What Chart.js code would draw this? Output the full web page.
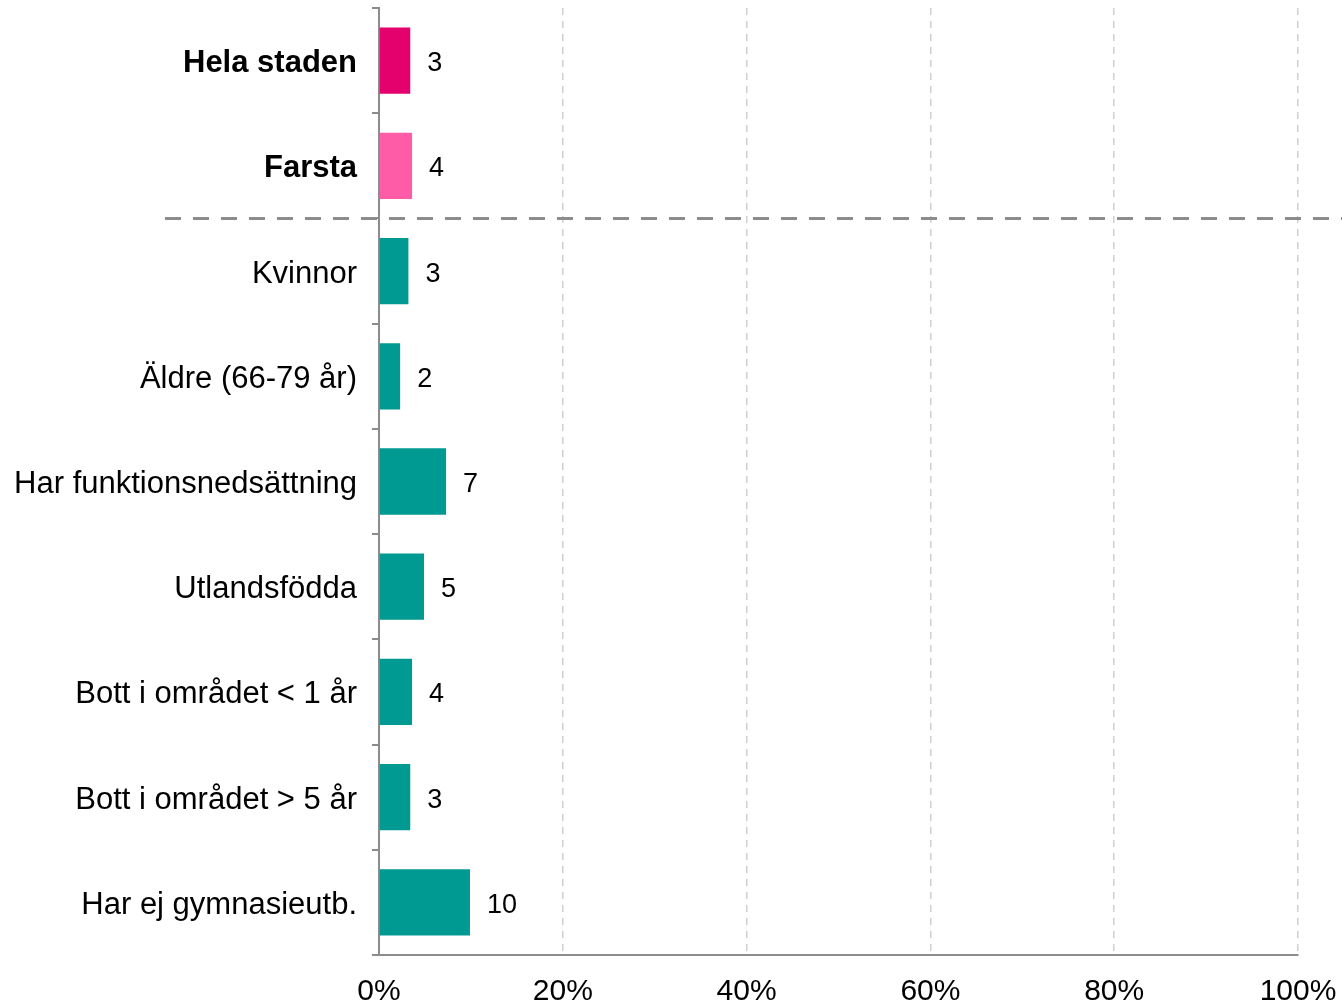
<!DOCTYPE html>
<html>
<head>
<meta charset="utf-8">
<script src="https://cdn.jsdelivr.net/npm/chart.js@4/dist/chart.umd.min.js"></script>
<style>
  html, body { margin: 0; padding: 0; background: #fff; }
  canvas { display: block; }
</style>
</head>
<body>
<canvas id="chart" width="1342" height="1005"></canvas>
<script>
// categories, values (percent) and bar colours
const categories = [
  'Hela staden',
  'Farsta',
  'Kvinnor',
  'Äldre (66-79 år)',
  'Har funktionsnedsättning',
  'Utlandsfödda',
  'Bott i området < 1 år',
  'Bott i området > 5 år',
  'Har ej gymnasieutb.'
];
const values = [3.4, 3.6, 3.2, 2.3, 7.3, 4.9, 3.6, 3.4, 9.9];
const barColors = ['#e4006d', '#ff5ca8', '#009a92', '#009a92', '#009a92', '#009a92', '#009a92', '#009a92', '#009a92'];
const boldRows = [0, 1];
const xTicks = [0, 20, 40, 60, 80, 100];

const FONT = "'Liberation Sans', Arial, sans-serif";

// value labels to the right of each bar
const valueLabels = {
  id: 'valueLabels',
  afterDatasetsDraw(chart) {
    const ctx = chart.ctx;
    const meta = chart.getDatasetMeta(0);
    ctx.save();
    ctx.font = '27px ' + FONT;
    ctx.fillStyle = '#000';
    ctx.textAlign = 'left';
    ctx.textBaseline = 'middle';
    meta.data.forEach((bar, i) => {
      ctx.fillText(String(Math.round(values[i])), bar.x + 17, bar.y + 3);
    });
    ctx.restore();
  }
};

// dashed separator between the two summary rows and the groups
const separator = {
  id: 'separator',
  afterDraw(chart) {
    const y = chart.scales.y;
    const py = (y.getPixelForValue(1) + y.getPixelForValue(2)) / 2;
    const ctx = chart.ctx;
    ctx.save();
    ctx.strokeStyle = '#8c8c8c';
    ctx.lineWidth = 3;
    ctx.setLineDash([16, 12]);
    ctx.beginPath();
    ctx.moveTo(165, py);
    ctx.lineTo(chart.width, py);
    ctx.stroke();
    ctx.restore();
  }
};

new Chart(document.getElementById('chart'), {
  type: 'bar',
  data: {
    labels: categories,
    datasets: [{
      data: values,
      backgroundColor: barColors,
      borderWidth: 0,
      barPercentage: 0.63,
      categoryPercentage: 1
    }]
  },
  options: {
    indexAxis: 'y',
    responsive: false,
    animation: false,
    devicePixelRatio: 1,
    layout: { padding: { top: 8, right: 44, left: 0, bottom: 0 } },
    plugins: {
      legend: { display: false },
      tooltip: { enabled: false }
    },
    scales: {
      x: {
        min: 0,
        max: 100,
        afterBuildTicks: (scale) => { scale.ticks = xTicks.map(v => ({ value: v })); },
        afterFit: (scale) => {
          scale.height = 50;
          scale.paddingLeft = 0;
          scale.paddingRight = 0;
        },
        grid: {
          color: '#cfcfcf',
          lineWidth: 1.5,
          tickLength: 0,
          drawTicks: false
        },
        border: { display: true, color: '#8c8c8c', width: 2, dash: [7, 6] },
        ticks: {
          padding: 19,
          color: '#000',
          font: { family: FONT, size: 30 },
          callback: (v) => v + '%'
        }
      },
      y: {
        afterFit: (scale) => {
          scale.width = 379;
          scale.paddingTop = 0;
          scale.paddingBottom = 0;
        },
        grid: {
          drawOnChartArea: false,
          drawTicks: true,
          tickLength: 7,
          color: '#8c8c8c',
          lineWidth: 2,
          offset: true
        },
        border: { display: true, color: '#8c8c8c', width: 2 },
        ticks: {
          padding: 15,
          labelOffset: 3,
          color: '#000',
          font: (ctx) => ({
            family: FONT,
            size: 31,
            weight: boldRows.includes(ctx.index) ? 'bold' : 'normal'
          })
        }
      }
    }
  },
  plugins: [valueLabels, separator]
});
</script>
</body>
</html>
